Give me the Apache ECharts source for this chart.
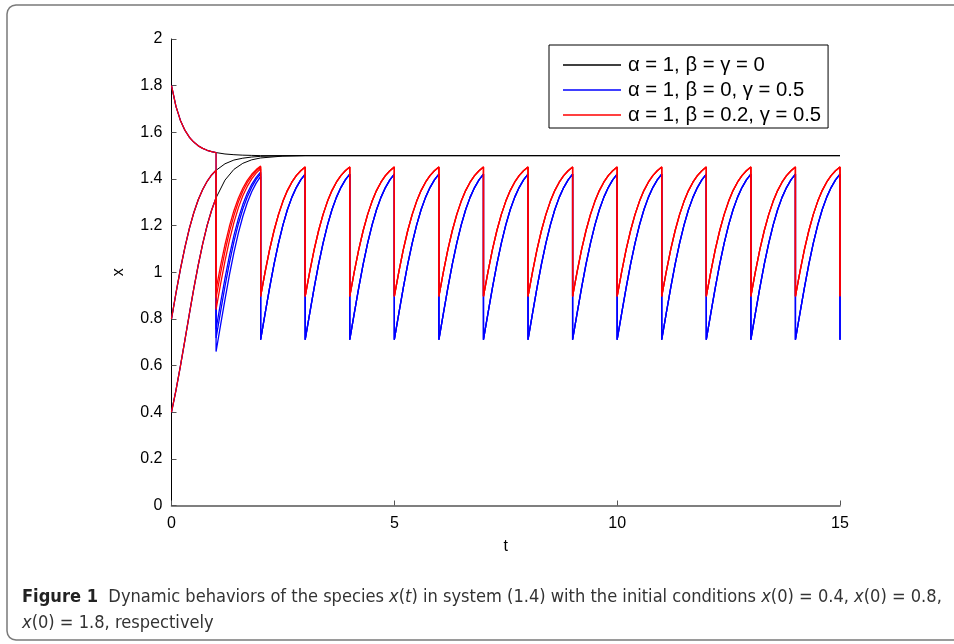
<!DOCTYPE html>
<html>
<head>
<meta charset="utf-8">
<script src="https://cdn.jsdelivr.net/npm/echarts@6/dist/echarts.min.js"></script>
<style>
  html, body { margin: 0; padding: 0; background: #fff; overflow: hidden; }
  #chart { width: 954px; height: 644px; }
</style>
</head>
<body>
<div id="chart"></div>
<script>
// offsets inside one unit of time
var fracT = [0, 0.1, 0.2, 0.3, 0.4, 0.5, 0.6, 0.7, 0.8, 0.9, 1.0];

// t in [0,1]: the three initial conditions, same for all parameter sets
var early04 = [0.4, 0.494, 0.598, 0.708, 0.820, 0.930, 1.031, 1.122, 1.201, 1.266, 1.319];
var early08 = [0.8, 0.910, 1.013, 1.106, 1.187, 1.255, 1.311, 1.355, 1.390, 1.417, 1.437];
var early18 = [1.8, 1.711, 1.651, 1.609, 1.579, 1.558, 1.542, 1.531, 1.523, 1.517, 1.513];

// black (no impulses) after t=1
var tailT = [1.2, 1.4, 1.6, 1.8, 2.0, 2.5, 3.0, 15];
var blackTail04 = [1.395, 1.441, 1.467, 1.482, 1.490, 1.498, 1.5, 1.5];
var blackTail08 = [1.465, 1.481, 1.489, 1.494, 1.497, 1.499, 1.5, 1.5];
var blackTail18 = [1.507, 1.504, 1.502, 1.501, 1.500, 1.5, 1.5, 1.5];

// blue (beta=0, gamma=0.5), t in [1,2]
var blueSecond04 = [0.660, 0.772, 0.883, 0.989, 1.084, 1.168, 1.239, 1.298, 1.345, 1.382, 1.411];
var blueSecond08 = [0.718, 0.830, 0.939, 1.040, 1.130, 1.207, 1.271, 1.323, 1.365, 1.398, 1.423];
var blueSecond18 = [0.756, 0.868, 0.974, 1.071, 1.157, 1.230, 1.290, 1.339, 1.377, 1.407, 1.430];
// blue periodic tooth, t in [k,k+1]
var blueTooth = [0.711, 0.823, 0.932, 1.034, 1.124, 1.202, 1.268, 1.321, 1.363, 1.396, 1.421];

// red (beta=0.2, gamma=0.5), t in [1,2]
var redSecond04 = [0.840, 0.948, 1.048, 1.137, 1.213, 1.276, 1.328, 1.368, 1.400, 1.425, 1.444];
var redSecond08 = [0.890, 0.995, 1.090, 1.173, 1.243, 1.301, 1.347, 1.384, 1.412, 1.434, 1.451];
var redSecond18 = [0.925, 1.027, 1.118, 1.197, 1.264, 1.317, 1.360, 1.394, 1.420, 1.440, 1.455];
var redTooth = [0.897, 1.001, 1.096, 1.178, 1.247, 1.304, 1.350, 1.386, 1.414, 1.435, 1.451];

var tEnd = 15;
var legendNames = ['\u03b1 = 1, \u03b2 = \u03b3 = 0', '\u03b1 = 1, \u03b2 = 0, \u03b3 = 0.5', '\u03b1 = 1, \u03b2 = 0.2, \u03b3 = 0.5'];

function blackData(early, tail) {
    var pts = early.map(function (v, i) { return [fracT[i], v]; });
    tail.forEach(function (v, i) { pts.push([tailT[i], v]); });
    return pts;
}

function impulseData(early, second, tooth) {
    var pts = early.map(function (v, i) { return [fracT[i], v]; });
    second.forEach(function (v, i) { pts.push([1 + fracT[i], v]); });
    for (var k = 2; k < tEnd; k++) {
        tooth.forEach(function (v, i) { pts.push([+(k + fracT[i]).toFixed(2), v]); });
    }
    pts.push([tEnd, tooth[0]]);
    return pts;
}

function lineSeries(name, color, width, data) {
    return {
        name: name,
        type: 'line',
        data: data,
        symbol: 'none',
        animation: false,
        lineStyle: { color: color, width: width },
        itemStyle: { color: color },
        emphasis: { disabled: true }
    };
}

var series = [
    lineSeries(legendNames[0], '#000000', 1, blackData(early04, blackTail04)),
    lineSeries(legendNames[0], '#000000', 1, blackData(early08, blackTail08)),
    lineSeries(legendNames[0], '#000000', 1, blackData(early18, blackTail18)),
    lineSeries(legendNames[1], '#0000ff', 1.3, impulseData(early04, blueSecond04, blueTooth)),
    lineSeries(legendNames[1], '#0000ff', 1.3, impulseData(early08, blueSecond08, blueTooth)),
    lineSeries(legendNames[1], '#0000ff', 1.3, impulseData(early18, blueSecond18, blueTooth)),
    lineSeries(legendNames[2], '#ff0000', 1.3, impulseData(early04, redSecond04, redTooth)),
    lineSeries(legendNames[2], '#ff0000', 1.3, impulseData(early08, redSecond08, redTooth)),
    lineSeries(legendNames[2], '#ff0000', 1.3, impulseData(early18, redSecond18, redTooth))
];

var chart = echarts.init(document.getElementById('chart'), null, { renderer: 'canvas' });

var axisFont = { fontFamily: 'Liberation Sans', fontSize: 16, color: '#000' };
var captionFont = 'DejaVu Sans Condensed, Liberation Sans Narrow, sans-serif';

var option = {
    backgroundColor: '#fff',
    animation: false,
    grid: { left: 171.5, right: 114, top: 39, bottom: 138.5, containLabel: false },
    legend: {
        data: legendNames,
        orient: 'vertical',
        left: 549,
        top: 45,
        padding: [10, 7, 3, 14],
        itemGap: 5,
        itemWidth: 58,
        itemHeight: 1.3,
        icon: 'rect',
        borderColor: '#000',
        borderWidth: 1,
        borderRadius: 0,
        backgroundColor: '#fff',
        selectedMode: false,
        textStyle: { fontFamily: 'Liberation Sans', fontSize: 20.3, lineHeight: 18, color: '#000', padding: [0, 0, 0, 2] }
    },
    xAxis: {
        type: 'value',
        min: 0,
        max: 15,
        interval: 5,
        name: 't',
        nameLocation: 'middle',
        nameGap: 33,
        nameTextStyle: axisFont,
        axisLine: { onZero: false, lineStyle: { color: '#555', width: 1.5 } },
        axisTick: { inside: true, length: 5, lineStyle: { color: '#555' } },
        axisLabel: { margin: 10, fontFamily: 'Liberation Sans', fontSize: 16, color: '#000' },
        splitLine: { show: false }
    },
    yAxis: {
        type: 'value',
        min: 0,
        max: 2,
        interval: 0.2,
        name: 'x',
        nameLocation: 'middle',
        nameGap: 45,
        nameRotate: 90,
        nameTextStyle: axisFont,
        axisLine: { onZero: false, lineStyle: { color: '#000', width: 1 } },
        axisTick: { inside: true, length: 5, lineStyle: { color: '#555' } },
        axisLabel: { margin: 9, fontFamily: 'Liberation Sans', fontSize: 16, color: '#000' },
        splitLine: { show: false }
    },
    graphic: [
        {
            // figure frame: open on the right side, rounded on the left
            type: 'polyline',
            silent: true,
            z: -10,
            shape: {
                points: [[960, 5], [16, 5], [12.5, 5.7], [9.6, 7.6], [7.7, 10.5], [7, 14],
                         [7, 631], [7.7, 634.5], [9.6, 637.4], [12.5, 639.3], [16, 640], [960, 640]]
            },
            style: { fill: null, stroke: '#7a7a7a', lineWidth: 1.5 }
        },
        {
            type: 'text',
            left: 22,
            top: 584,
            style: {
                text: '{b|Figure 1}  Dynamic behaviors of the species {i|x}({i|t}) in system (1.4) with the initial conditions {i|x}(0) = 0.4, {i|x}(0) = 0.8,\n{i|x}(0) = 1.8, respectively',
                fontFamily: captionFont,
                fontSize: 18.1,
                lineHeight: 26,
                fill: '#333',
                rich: {
                    b: { fontFamily: captionFont, fontSize: 18.1, fontWeight: 'bold', fill: '#222' },
                    i: { fontFamily: captionFont, fontSize: 18.1, fontStyle: 'italic', fill: '#333' }
                }
            }
        }
    ],
    series: series
};

chart.setOption(option, true);
</script>
</body>
</html>
